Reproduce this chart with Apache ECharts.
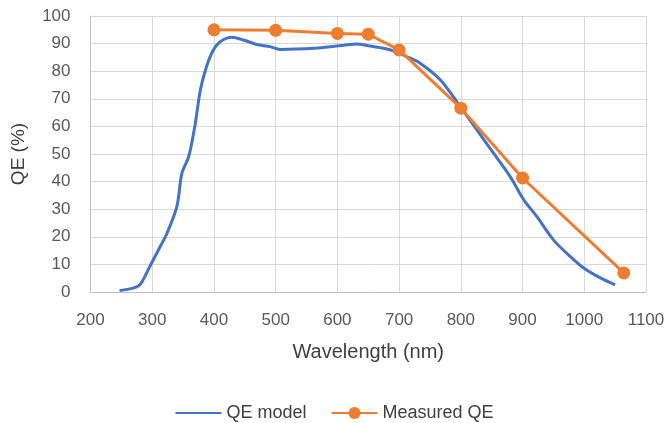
<!DOCTYPE html>
<html><head><meta charset="utf-8">
<script src="https://cdn.jsdelivr.net/npm/echarts@6/dist/echarts.min.js"></script>
<style>html,body{margin:0;padding:0;background:#fff}#c{width:668px;height:423px}</style>
</head><body><div id="c"></div>
<script>
var modelWavelength = [247,269,280,291,299,313,324,340,348,359,369,378,388,399,410,429,448,469,491,507,534,561,588,610,631,653,675,694,712,734,767,799,826,853,880,902,923,950,977,999,1026,1050];
var modelQE = [0.5,1.4,2.6,6.9,10.5,16.5,21.3,31,43,49,60,73.2,81.7,87.7,90.7,92.3,91.3,89.7,88.9,87.9,88,88.3,88.9,89.4,89.9,89.1,88.3,87.1,85.3,82.9,76.8,67.2,58.7,50.3,41.8,33.4,27.4,18.9,12.9,8.7,5.1,2.6];
var measuredWavelength = [400,500,600,650,700,800,900,1064];
var measuredQE = [95.0,94.8,93.7,93.4,87.7,66.6,41.3,6.9];
var xTicks = {min:200,max:1100,interval:100};
var yTicks = {min:0,max:100,interval:10};

function pairs(xs, ys){ return xs.map(function(x,i){return [x, ys[i]];}); }

var font = 'Liberation Sans, Arial, sans-serif';
var chart = echarts.init(document.getElementById('c'), null, {renderer:'canvas'});
chart.setOption({
  animation:false,
  grid:{left:90.5,right:22,top:16,bottom:131,containLabel:false},
  xAxis:{type:'value',min:xTicks.min,max:xTicks.max,interval:xTicks.interval,
    name:'Wavelength (nm)',nameLocation:'middle',nameGap:50,
    nameTextStyle:{fontFamily:font,fontSize:20,color:'#404040'},
    axisLine:{show:true,lineStyle:{color:'#bfbfbf',width:1}},
    axisTick:{show:false},
    axisLabel:{fontFamily:font,fontSize:17,color:'#595959',margin:20,
      formatter:function(v){return String(v);}},
    splitLine:{show:true,lineStyle:{color:'#d9d9d9',width:1}}},
  yAxis:{type:'value',min:yTicks.min,max:yTicks.max,interval:yTicks.interval,
    name:'QE (%)',nameLocation:'middle',nameGap:62,nameRotate:90,
    nameTextStyle:{fontFamily:font,fontSize:19,color:'#404040'},
    axisLine:{show:true,lineStyle:{color:'#bfbfbf',width:1}},
    axisTick:{show:false},
    axisLabel:{fontFamily:font,fontSize:17,color:'#595959',margin:20},
    splitLine:{show:true,lineStyle:{color:'#d9d9d9',width:1}}},
  legend:{top:399,left:'center',itemWidth:46,itemHeight:15,itemGap:24,
    textStyle:{fontFamily:font,fontSize:18,color:'#404040'},
    data:[{name:'QE model',itemStyle:{opacity:0}},'Measured QE']},
  series:[
    {name:'QE model',type:'line',data:pairs(modelWavelength,modelQE),
     smooth:0.3,symbol:'none',lineStyle:{color:'#4472C4',width:3},itemStyle:{color:'#4472C4'}},
    {name:'Measured QE',type:'line',data:pairs(measuredWavelength,measuredQE),
     symbol:'circle',symbolSize:13,lineStyle:{color:'#ED7D31',width:3},itemStyle:{color:'#ED7D31'}}
  ]
});
</script></body></html>
